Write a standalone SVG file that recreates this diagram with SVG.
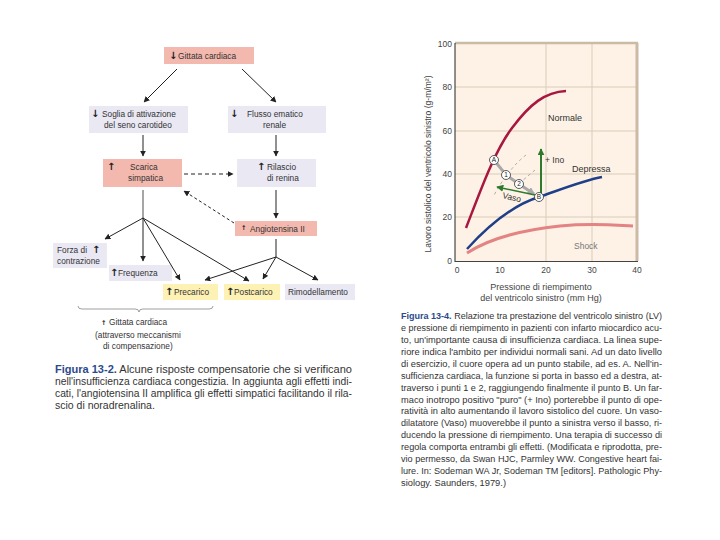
<svg xmlns="http://www.w3.org/2000/svg" width="720" height="540" viewBox="0 0 720 540">
<defs>
<style>
.t{font-family:"Liberation Sans",Arial,sans-serif;font-size:8.3px;fill:#333}
.ar{font-family:"DejaVu Sans",sans-serif;font-size:10px;font-weight:bold;fill:#222}
.pink{fill:#f4b9ae}
.lav{fill:#e9e8f3}
.yel{fill:#fdf1b3}
.c{stroke:#222;stroke-width:1;fill:none}
.cap{font-family:"Liberation Sans",Arial,sans-serif;font-size:10.5px;fill:#333}
.cap2{font-family:"Liberation Sans",Arial,sans-serif;font-size:9.6px;fill:#333}
.fig{font-weight:bold;fill:#2b4a8c}
.ax{font-family:"Liberation Sans",Arial,sans-serif;font-size:8.5px;fill:#444}
.grid{stroke:#d9ccb9;stroke-width:1}
</style>
<marker id="ah" viewBox="0 0 10 10" refX="9" refY="5" markerWidth="6" markerHeight="6" markerUnits="userSpaceOnUse" orient="auto"><path d="M0,0 L10,5 L0,10 z" fill="#222"/></marker>
<marker id="ahg" viewBox="0 0 10 10" refX="9" refY="5" markerWidth="7" markerHeight="7" markerUnits="userSpaceOnUse" orient="auto"><path d="M0,0 L10,5 L0,10 z" fill="#2d7a2d"/></marker>
<marker id="ahgr" viewBox="0 0 10 10" refX="8" refY="5" markerWidth="8" markerHeight="8" markerUnits="userSpaceOnUse" orient="auto"><path d="M0,0 L10,5 L0,10 z" fill="#a9a9a9"/></marker>
</defs>
<rect width="720" height="540" fill="#fff"/>

<!-- Left diagram nodes -->
<g id="gittata">
<rect class="pink" x="164" y="47" width="90" height="17"/>
<text class="ar" x="169" y="59">↓</text>
<text class="t" x="178" y="59">Gittata cardiaca</text>
</g>
<g id="soglia">
<rect class="lav" x="89" y="106" width="99" height="27"/>
<text class="ar" x="91" y="117">↓</text>
<text class="t" x="102" y="117">Soglia di attivazione</text>
<text class="t" x="104" y="128">del seno carotideo</text>
</g>
<g id="flusso">
<rect class="lav" x="228" y="106" width="98" height="27"/>
<text class="ar" x="230" y="117">↓</text>
<text class="t" x="247" y="117">Flusso ematico</text>
<text class="t" x="263" y="128">renale</text>
</g>
<g id="scarica">
<rect class="pink" x="103" y="159" width="79" height="28"/>
<text class="ar" x="107" y="170">↑</text>
<text class="t" x="130" y="170">Scarica</text>
<text class="t" x="128" y="181">simpatica</text>
</g>
<g id="rilascio">
<rect class="lav" x="237" y="159" width="79" height="28"/>
<text class="ar" x="257" y="170">↑</text>
<text class="t" x="267" y="170">Rilascio</text>
<text class="t" x="267" y="181">di renina</text>
</g>
<g id="angiotensina">
<rect class="pink" x="235" y="221" width="82" height="15"/>
<text class="ar" x="241" y="230" style="font-size:6.5px">↑</text>
<text class="t" x="250" y="232">Angiotensina II</text>
</g>
<g id="forza">
<rect class="lav" x="53" y="243" width="54" height="25"/>
<text class="t" x="57" y="253">Forza di</text>
<text class="ar" x="92" y="253">↑</text>
<text class="t" x="57" y="264">contrazione</text>
</g>
<g id="frequenza">
<rect class="lav" x="109" y="265" width="63" height="16"/>
<text class="ar" x="110" y="276">↑</text>
<text class="t" x="118" y="276">Frequenza</text>
</g>
<g id="precarico">
<rect class="yel" x="163" y="284" width="55" height="16"/>
<text class="ar" x="165" y="295">↑</text>
<text class="t" x="174" y="295">Precarico</text>
</g>
<g id="postcarico">
<rect class="yel" x="224" y="284" width="56" height="16"/>
<text class="ar" x="226" y="295">↑</text>
<text class="t" x="234" y="295">Postcarico</text>
</g>
<g id="rimodellamento">
<rect class="lav" x="285" y="284" width="70" height="16"/>
<text class="t" x="288" y="295">Rimodellamento</text>
</g>
<g id="gittata-finale">
<path d="M78,306 Q78,309 82,309 L135,309 Q139,309 139,312 Q139,309 143,309 L209,309 Q213,309 213,306" fill="none" stroke="#777" stroke-width="0.7"/>
<text class="ar" x="101" y="325" style="font-size:6.5px">↑</text>
<text class="t" x="109" y="325">Gittata cardiaca</text>
<text class="t" x="95" y="338">(attraverso meccanismi</text>
<text class="t" x="103" y="349">di compensazione)</text>
</g>

<!-- Connectors -->
<g id="connectors">
<line class="c" x1="177" y1="69" x2="144" y2="102" marker-end="url(#ah)"/>
<line class="c" x1="242" y1="69" x2="276" y2="102" marker-end="url(#ah)"/>
<line class="c" x1="143" y1="135" x2="143" y2="156" marker-end="url(#ah)"/>
<line class="c" x1="276" y1="135" x2="276" y2="156" marker-end="url(#ah)"/>
<line class="c" x1="184" y1="174" x2="233" y2="174" stroke-dasharray="4,3" stroke-width="1.3" marker-end="url(#ah)"/>
<line class="c" x1="276" y1="190" x2="276" y2="218" stroke-width="2" marker-end="url(#ah)"/>
<line class="c" x1="234" y1="223" x2="184" y2="191" stroke-dasharray="3,2.5" marker-end="url(#ah)"/>
<line x1="143" y1="190" x2="143" y2="218" stroke="#888" stroke-width="1.5"/>
<line class="c" x1="143" y1="218" x2="105" y2="239" marker-end="url(#ah)"/>
<line class="c" x1="143" y1="218" x2="143" y2="261" stroke-width="2" marker-end="url(#ah)"/>
<line class="c" x1="143" y1="218" x2="180" y2="280" marker-end="url(#ah)"/>
<line class="c" x1="143" y1="218" x2="249" y2="281" marker-end="url(#ah)"/>
<line class="c" x1="276" y1="239" x2="276" y2="257"/>
<line class="c" x1="276" y1="257" x2="205" y2="280" marker-end="url(#ah)"/>
<line class="c" x1="276" y1="257" x2="263" y2="279" marker-end="url(#ah)"/>
<line class="c" x1="276" y1="257" x2="318" y2="280" marker-end="url(#ah)"/>
</g>

<!-- Left caption -->
<g id="caption-left">
<text class="cap" x="55" y="373" textLength="297" lengthAdjust="spacingAndGlyphs"><tspan class="fig">Figura 13-2.</tspan> Alcune risposte compensatorie che si verificano</text>
<text class="cap" x="55" y="385" textLength="297" lengthAdjust="spacingAndGlyphs">nell'insufficienza cardiaca congestizia. In aggiunta agli effetti indi-</text>
<text class="cap" x="55" y="397" textLength="297" lengthAdjust="spacingAndGlyphs">cati, l'angiotensina II amplifica gli effetti simpatici facilitando il rila-</text>
<text class="cap" x="55" y="409">scio di noradrenalina.</text>
</g>

<!-- Chart -->
<g id="chart">
<rect x="455" y="43" width="182" height="218" fill="#fdf2e5"/>
<line class="grid" x1="546" y1="43" x2="546" y2="261"/>
<line class="grid" x1="592" y1="43" x2="592" y2="261"/>
<line class="grid" x1="455" y1="87" x2="636" y2="87"/>
<line class="grid" x1="455" y1="131" x2="636" y2="131"/>
<line class="grid" x1="455" y1="174" x2="636" y2="174"/>
<line class="grid" x1="455" y1="217" x2="636" y2="217"/>
<line x1="455" y1="43" x2="638" y2="43" stroke="#cbbba5" stroke-width="2.5"/>
<line x1="637" y1="43" x2="637" y2="261" stroke="#cbbba5" stroke-width="3"/>
<line x1="455" y1="43" x2="455" y2="262" stroke="#222" stroke-width="1"/>
<line x1="455" y1="261.5" x2="638" y2="261.5" stroke="#444" stroke-width="1"/>
<g class="ax" text-anchor="end">
<text x="452" y="47">100</text>
<text x="452" y="90">80</text>
<text x="452" y="134">60</text>
<text x="452" y="177">40</text>
<text x="452" y="220">20</text>
<text x="452" y="264">0</text>
</g>
<g class="ax" text-anchor="middle">
<text x="457" y="273">0</text>
<text x="500" y="273">10</text>
<text x="546" y="273">20</text>
<text x="592" y="273">30</text>
<text x="637" y="273">40</text>
<text x="541" y="290" style="font-size:9px">Pressione di riempimento</text>
<text x="541" y="301" style="font-size:9px">del ventricolo sinistro (mm Hg)</text>
<text transform="translate(431,164) rotate(-90)" style="font-size:8.6px">Lavoro sistolico del ventricolo sinistro (g-m/m²)</text>
</g>
<path d="M466,228 C480,192 494,152 512,128 C530,104 545,92 566,91" fill="none" stroke="#a8173f" stroke-width="2.5"/>
<path d="M467,249 C488,226 513,205 539,197 C562,189 585,180 602,177" fill="none" stroke="#1f3f88" stroke-width="2.5"/>
<path d="M467,253 C490,238 522,230 560,226 C592,223 612,225 633,226" fill="none" stroke="#e38383" stroke-width="3"/>
<text class="ax" x="548" y="121" style="font-size:9px;fill:#333">Normale</text>
<text class="ax" x="572" y="172" style="font-size:9px;fill:#333">Depressa</text>
<text class="ax" x="574" y="249" style="font-size:8.5px;fill:#777">Shock</text>
<path d="M526,155 Q508,169 493,197" fill="none" stroke="#999" stroke-width="0.8" stroke-dasharray="3,3"/>
<path d="M535,170 L522,181" fill="none" stroke="#999" stroke-width="0.8" stroke-dasharray="3,3"/>
<polyline points="494,160 506,175 519,184 534,194" fill="none" stroke="#a9a9a9" stroke-width="3" marker-end="url(#ahgr)"/>
<line x1="541" y1="196" x2="541" y2="149" stroke="#2d7a2d" stroke-width="2" marker-end="url(#ahg)"/>
<line x1="535" y1="195" x2="497" y2="187" stroke="#2d7a2d" stroke-width="1.5" marker-end="url(#ahg)"/>
<text class="ax" x="545" y="163" style="fill:#333">+ Ino</text>
<text class="ax" x="502" y="198" transform="rotate(13 502 198)" style="fill:#333">Vaso</text>
<g font-family="Liberation Sans,Arial,sans-serif" font-size="6.5" text-anchor="middle" fill="#222">
<circle cx="494" cy="160" r="4.5" fill="#fff" stroke="#333" stroke-width="0.8"/>
<text x="494" y="162.3">A</text>
<circle cx="506" cy="175" r="4.5" fill="#fff" stroke="#333" stroke-width="0.8"/>
<text x="506" y="177.3">1</text>
<circle cx="519" cy="184" r="4.5" fill="#fff" stroke="#333" stroke-width="0.8"/>
<text x="519" y="186.3">2</text>
<circle cx="539" cy="197" r="4.5" fill="#fff" stroke="#333" stroke-width="0.8"/>
<text x="539" y="199.3">B</text>
</g>
</g>

<!-- Right caption -->
<g id="caption-right">
<text class="cap2" x="401" y="319" textLength="261" lengthAdjust="spacingAndGlyphs"><tspan class="fig">Figura 13-4.</tspan> Relazione tra prestazione del ventricolo sinistro (LV)</text>
<text class="cap2" x="401" y="331" textLength="261" lengthAdjust="spacingAndGlyphs">e pressione di riempimento in pazienti con infarto miocardico acu-</text>
<text class="cap2" x="401" y="343" textLength="261" lengthAdjust="spacingAndGlyphs">to, un'importante causa di insufficienza cardiaca. La linea supe-</text>
<text class="cap2" x="401" y="355" textLength="261" lengthAdjust="spacingAndGlyphs">riore indica l'ambito per individui normali sani. Ad un dato livello</text>
<text class="cap2" x="401" y="367" textLength="261" lengthAdjust="spacingAndGlyphs">di esercizio, il cuore opera ad un punto stabile, ad es. A. Nell'in-</text>
<text class="cap2" x="401" y="379" textLength="261" lengthAdjust="spacingAndGlyphs">sufficienza cardiaca, la funzione si porta in basso ed a destra, at-</text>
<text class="cap2" x="401" y="391" textLength="261" lengthAdjust="spacingAndGlyphs">traverso i punti 1 e 2, raggiungendo finalmente il punto B. Un far-</text>
<text class="cap2" x="401" y="403" textLength="261" lengthAdjust="spacingAndGlyphs">maco inotropo positivo "puro" (+ Ino) porterebbe il punto di ope-</text>
<text class="cap2" x="401" y="414" textLength="261" lengthAdjust="spacingAndGlyphs">ratività in alto aumentando il lavoro sistolico del cuore. Un vaso-</text>
<text class="cap2" x="401" y="426" textLength="261" lengthAdjust="spacingAndGlyphs">dilatatore (Vaso) muoverebbe il punto a sinistra verso il basso, ri-</text>
<text class="cap2" x="401" y="438" textLength="261" lengthAdjust="spacingAndGlyphs">ducendo la pressione di riempimento. Una terapia di successo di</text>
<text class="cap2" x="401" y="450" textLength="261" lengthAdjust="spacingAndGlyphs">regola comporta entrambi gli effetti. (Modificata e riprodotta, pre-</text>
<text class="cap2" x="401" y="462" textLength="261" lengthAdjust="spacingAndGlyphs">vio permesso, da Swan HJC, Parmley WW. Congestive heart fai-</text>
<text class="cap2" x="401" y="474" textLength="261" lengthAdjust="spacingAndGlyphs">lure. In: Sodeman WA Jr, Sodeman TM [editors]. Pathologic Phy-</text>
<text class="cap2" x="401" y="486" textLength="105" lengthAdjust="spacingAndGlyphs">siology. Saunders, 1979.)</text>
</g>
</svg>
